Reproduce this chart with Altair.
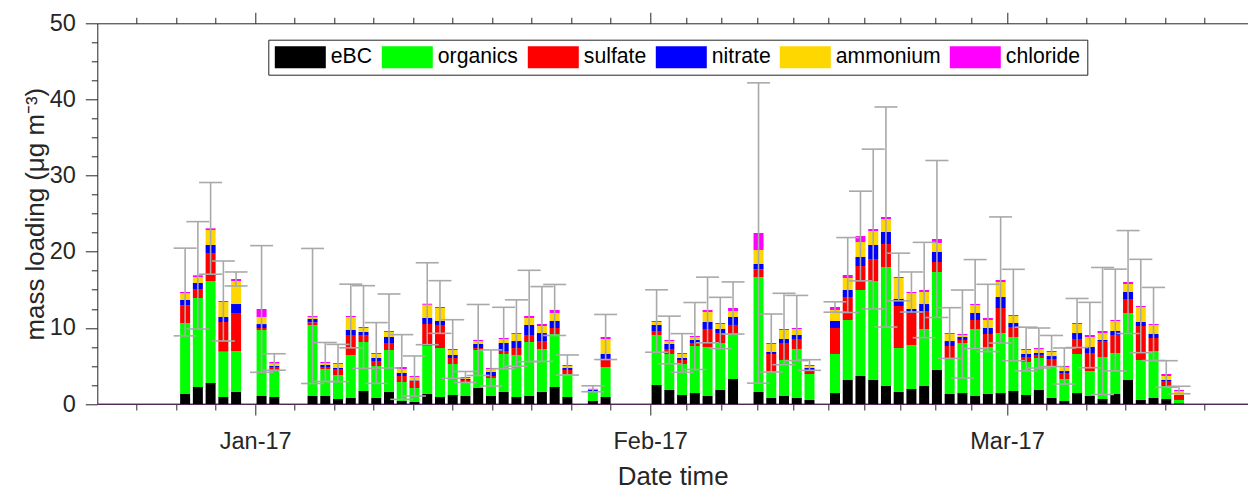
import altair as alt
import pandas as pd
from datetime import datetime, timezone

# ---------------- data ----------------
dates = [
    "2016-12-26", "2016-12-27", "2016-12-28", "2016-12-29", "2016-12-30",
    "2017-01-01", "2017-01-02", "2017-01-05", "2017-01-06", "2017-01-07",
    "2017-01-08", "2017-01-09", "2017-01-10", "2017-01-11", "2017-01-12",
    "2017-01-13", "2017-01-14", "2017-01-15", "2017-01-16", "2017-01-17",
    "2017-01-18", "2017-01-19", "2017-01-20", "2017-01-21", "2017-01-22",
    "2017-01-23", "2017-01-24", "2017-01-25", "2017-01-27", "2017-01-28",
    "2017-02-01", "2017-02-02", "2017-02-03", "2017-02-04", "2017-02-05",
    "2017-02-06", "2017-02-07", "2017-02-09", "2017-02-10", "2017-02-11",
    "2017-02-12", "2017-02-13", "2017-02-15", "2017-02-16", "2017-02-17",
    "2017-02-18", "2017-02-19", "2017-02-20", "2017-02-21", "2017-02-22",
    "2017-02-23", "2017-02-24", "2017-02-25", "2017-02-26", "2017-02-27",
    "2017-02-28", "2017-03-01", "2017-03-02", "2017-03-03", "2017-03-04",
    "2017-03-05", "2017-03-06", "2017-03-07", "2017-03-08", "2017-03-09",
    "2017-03-10", "2017-03-11", "2017-03-12", "2017-03-13", "2017-03-14",
]

ebc = [1.31, 2.23, 2.76, 0.92, 1.58, 1.05, 0.92, 1.05, 1.05, 0.66,
       0.79, 1.71, 0.79, 1.58, 0.39, 0.26, 1.31, 0.92, 1.18, 1.05,
       2.10, 1.05, 1.58, 0.92, 1.05, 1.58, 2.23, 0.92, 0.39, 0.92,
       2.50, 1.84, 1.18, 1.44, 1.05, 1.84, 3.28, 1.58, 0.79, 1.05,
       0.79, 0.53, 1.44, 3.15, 3.68, 3.15, 2.36, 1.58, 1.97, 2.36,
       4.47, 1.31, 1.44, 1.05, 1.31, 1.44, 1.71, 1.18, 1.84, 0.79,
       0.39, 1.44, 1.05, 0.66, 1.31, 3.15, 0.53, 0.79, 0.66, 0.10]

organics = [9.33, 11.69, 13.39, 5.95, 5.38, 8.67, 3.50, 9.33, 3.55, 3.15,
            5.65, 6.43, 4.20, 5.51, 2.50, 1.84, 6.31, 6.43, 4.07, 1.84,
            4.99, 2.36, 4.99, 5.52, 7.09, 5.64, 6.96, 3.02, 1.19, 3.94,
            6.56, 4.73, 4.07, 6.18, 6.44, 6.17, 5.96, 15.10, 3.54, 4.73,
            6.43, 3.41, 5.13, 7.88, 11.29, 13.00, 15.63, 5.77, 5.78, 7.49,
            12.87, 4.73, 6.57, 8.80, 6.18, 7.88, 7.09, 4.34, 4.20, 4.20,
            2.89, 5.13, 3.28, 5.51, 5.39, 8.80, 5.25, 6.17, 1.70, 0.43]

sulfate = [2.28, 1.18, 3.59, 3.90, 4.90, 0.26, 0.44, 0.34, 0.26, 0.79,
           2.53, 0.83, 0.66, 0.92, 0.79, 0.92, 2.89, 3.03, 0.79, 0.26,
           0.26, 0.27, 0.39, 0.91, 0.92, 1.05, 0.79, 0.53, 0.13, 0.92,
           0.53, 0.65, 0.53, 0.39, 2.36, 1.31, 1.14, 1.01, 2.24, 2.23,
           1.32, 0.53, 3.41, 3.02, 3.15, 2.89, 3.02, 5.52, 4.20, 2.36,
           1.31, 1.58, 0.40, 1.18, 1.70, 3.29, 1.31, 0.65, 0.40, 0.92,
           0.79, 1.97, 2.37, 2.10, 2.36, 1.84, 4.46, 1.71, 0.66, 0.65]

nitrate = [0.74, 0.79, 1.14, 0.66, 1.27, 0.52, 0.17, 0.44, 0.26, 0.13,
           0.75, 0.49, 0.39, 0.79, 0.39, 0.08, 0.79, 0.52, 0.40, 0.13,
           0.53, 0.52, 1.05, 0.92, 1.32, 1.05, 0.92, 0.26, 0.13, 0.79,
           0.79, 0.66, 0.26, 0.40, 0.92, 0.53, 1.05, 0.70, 0.26, 0.53,
           0.52, 0.26, 0.92, 0.92, 1.19, 1.84, 1.58, 0.92, 0.53, 0.92,
           1.31, 0.65, 0.39, 0.92, 0.79, 1.44, 0.53, 0.40, 0.26, 0.39,
           0.26, 0.78, 0.79, 0.14, 0.53, 0.92, 0.53, 0.52, 0.13, 0.02]

ammonium = [0.88, 0.79, 1.97, 1.97, 3.02, 0.93, 0.31, 0.27, 0.26, 0.52,
            1.71, 0.52, 0.53, 0.66, 0.53, 0.45, 1.74, 1.71, 0.65, 0.13,
            0.39, 0.40, 0.53, 0.92, 0.92, 0.92, 1.05, 0.26, 0.06, 1.97,
            0.39, 0.39, 0.53, 0.39, 1.31, 0.66, 0.78, 1.84, 1.05, 1.18,
            0.79, 0.26, 1.45, 1.58, 1.97, 1.84, 1.71, 2.76, 2.10, 1.58,
            1.19, 0.92, 0.26, 1.05, 1.05, 1.97, 0.92, 0.52, 0.52, 0.53,
            0.53, 1.19, 1.31, 0.91, 1.31, 1.05, 1.97, 1.19, 0.53, 0.51]

chloride = [0.17, 0.22, 0.22, 0.13, 0.27, 1.05, 0.18, 0.13, 0.14, 0.13,
            0.13, 0.13, 0.13, 0.13, 0.26, 0.13, 0.13, 0.13, 0.13, 0.14,
            0.14, 0.13, 0.13, 0.13, 0.26, 0.27, 0.40, 0.13, 0.10, 0.26,
            0.13, 0.14, 0.13, 0.13, 0.27, 0.13, 0.40, 2.23, 0.13, 0.13,
            0.13, 0.13, 0.39, 0.39, 0.78, 0.26, 0.26, 0.13, 0.13, 0.26,
            0.52, 0.13, 0.13, 0.13, 0.27, 0.27, 0.13, 0.13, 0.13, 0.13,
            0.13, 0.13, 0.26, 0.27, 0.13, 0.26, 0.13, 0.13, 0.26, 0.13]

# standard deviation of total mass (error bars)
total_sd = [5.76, 7.05, 6.02, 5.25, 0.92, 8.32, 1.08, 8.87, 2.56, 2.45,
            4.18, 5.43, 3.99, 4.86, 4.25, 2.63, 5.38, 3.46, 3.85, 0.72,
            4.66, 2.37, 4.03, 4.36, 6.00, 4.91, 3.35, 1.32, 0.39, 2.96,
            4.10, 3.13, 2.54, 4.40, 4.31, 3.37, 3.42, 19.72, 3.81, 4.69,
            4.28, 0.70, 0.68, 4.92, 5.89, 10.49, 14.45, 3.13, 2.63, 6.26,
            10.31, 3.33, 5.78, 5.84, 4.42, 8.28, 6.00, 2.87, 2.63, 2.04,
            2.37, 3.22, 4.29, 8.34, 6.68, 6.76, 6.13, 4.80, 1.75, 0.49]

components = ["eBC", "organics", "sulfate", "nitrate", "ammonium", "chloride"]
comp_colors = ["#000000", "#00ff00", "#ff0000", "#0000ff", "#ffd700", "#ff00ff"]
series = [ebc, organics, sulfate, nitrate, ammonium, chloride]

# ---------------- tables ----------------
rows = []
for i, d in enumerate(dates):
    for j, name in enumerate(components):
        rows.append({"t": d + "T12:00:00Z", "component": name, "idx": j,
                     "value": series[j][i]})
bars_df = pd.DataFrame(rows)

tot = [sum(s[i] for s in series) for i in range(len(dates))]
err_df = pd.DataFrame({
    "t": [d + "T12:00:00Z" for d in dates],
    "lo": [tot[i] - total_sd[i] for i in range(len(dates))],
    "hi": [tot[i] + total_sd[i] for i in range(len(dates))],
})

# ---------------- layout / ticks ----------------
W, H = 1150.7, 380.7
FONT = "Liberation Sans"
AXC = "#262626"
ERRC = "#a9a9a9"


def ms(dt):
    return int(dt.replace(tzinfo=timezone.utc).timestamp() * 1000)


x_start, x_end = datetime(2016, 12, 20), datetime(2017, 3, 19, 12, 30)
major_dt = [datetime(2017, 1, 1), datetime(2017, 2, 1), datetime(2017, 3, 1)]
majors = [ms(d) for d in major_dt]
month_starts = [datetime(2016, 12, 1), datetime(2017, 1, 1), datetime(2017, 2, 1),
                datetime(2017, 3, 1), datetime(2017, 4, 1)]
minors = []
for a, b in zip(month_starts[:-1], month_starts[1:]):
    step = (b - a) / 10
    for k in range(1, 10):
        d = a + step * k
        if x_start <= d <= x_end:
            minors.append(ms(d))

y_major = [0, 10, 20, 30, 40, 50]
y_minor = [v / 2 for v in range(5, 100, 5) if (v / 2) % 10 != 0]

xscale = alt.Scale(type="utc", domain=[ms(x_start), ms(x_end)])
yscale = alt.Scale(domain=[0, 50], nice=False, zero=True)

common = dict(domainColor=AXC, tickColor=AXC, domainWidth=1, tickWidth=1,
              grid=False, labelFont=FONT, titleFont=FONT,
              labelColor=AXC, titleColor=AXC)

x_axis_main = alt.Axis(orient="bottom", values=majors,
                       labelExpr="utcFormat(datum.value, '%b-%y')",
                       tickSize=11, labelFontSize=23.5,
                       labelPadding=14, labelFlush=False, labelOverlap=False,
                       title="Date time", titleFontSize=25.9,
                       titleFontWeight="normal", titleBaseline="alphabetic",
                       titleY=80, **common)
x_axis_minor_b = alt.Axis(orient="bottom", values=minors, tickSize=6,
                          labels=False, domain=False, title=None, **common)
x_axis_major_t = alt.Axis(orient="top", values=majors, tickSize=11,
                          labels=False, domain=True, title=None, **common)
x_axis_minor_t = alt.Axis(orient="top", values=minors, tickSize=6,
                          labels=False, domain=False, title=None, **common)

y_axis_main = alt.Axis(orient="left", values=y_major, tickSize=12,
                       labelFontSize=23.5, labelPadding=10,
                       title="mass loading (μg m⁻³)", titleFontSize=25.9,
                       titleFontWeight="normal", titleAngle=270,
                       titleBaseline="alphabetic", titleAlign="center",
                       titleX=-54, titleY=H / 2, **common)
y_axis_minor_l = alt.Axis(orient="left", values=y_minor, tickSize=6,
                          labels=False, domain=False, title=None, **common)
y_axis_major_r = alt.Axis(orient="right", values=y_major, tickSize=12,
                          labels=False, domain=True, title=None, **common)
y_axis_minor_r = alt.Axis(orient="right", values=y_minor, tickSize=6,
                          labels=False, domain=False, title=None, **common)

# swatch: 51 x 22 px rectangle, left-aligned in the legend entry
legend = alt.Legend(orient="none", legendX=171.0, legendY=16.4,
                    direction="horizontal", title=None,
                    symbolType="M-1,-1H3.636V1H-1Z", symbolSize=484,
                    symbolStrokeWidth=0, symbolOpacity=1,
                    labelFont=FONT, labelFontSize=21.2, labelColor="#000000",
                    labelOffset=34, labelLimit=400, columnPadding=9.0,
                    padding=6.5, strokeColor=AXC, fillColor="#ffffff")

# ---------------- layers ----------------
zero_line = alt.Chart(pd.DataFrame({"v": [0]})).mark_rule(
    color="#7e2f8e", strokeWidth=1.2
).encode(
    y=alt.Y("v:Q", scale=yscale, axis=None),
    x=alt.value(0), x2=alt.value(W),
)

bars = alt.Chart(bars_df).mark_bar(size=10).encode(
    x=alt.X("t:T", scale=xscale, axis=x_axis_main),
    y=alt.Y("value:Q", stack="zero", scale=yscale, axis=y_axis_main),
    color=alt.Color("component:N",
                    scale=alt.Scale(domain=components, range=comp_colors),
                    legend=legend),
    order=alt.Order("idx:Q", sort="ascending"),
)

err_line = alt.Chart(err_df).mark_rule(color=ERRC, strokeWidth=1.6).encode(
    x=alt.X("t:T", scale=xscale, axis=x_axis_minor_b),
    y=alt.Y("lo:Q", scale=yscale, axis=y_axis_minor_l),
    y2="hi:Q",
)

cap_hi = alt.Chart(err_df).mark_rule(
    color=ERRC, strokeWidth=1.6, xOffset=-11.5, x2Offset=11.5
).encode(
    x=alt.X("t:T", scale=xscale, axis=x_axis_major_t),
    x2="t:T",
    y=alt.Y("hi:Q", scale=yscale, axis=y_axis_major_r),
)

cap_lo = alt.Chart(err_df).mark_rule(
    color=ERRC, strokeWidth=1.6, xOffset=-11.5, x2Offset=11.5
).encode(
    x=alt.X("t:T", scale=xscale, axis=x_axis_minor_t),
    x2="t:T",
    y=alt.Y("lo:Q", scale=yscale, axis=y_axis_minor_r),
)

chart = alt.layer(zero_line, bars, err_line, cap_hi, cap_lo).resolve_axis(
    x="independent", y="independent"
).properties(
    width=W, height=H,
    autosize=alt.AutoSizeParams(type="none"),
    padding={"left": 89.3, "top": 15.3, "right": 0, "bottom": 84},
).configure(font=FONT).configure_view(stroke="transparent")

chart.save("out.html", embed_options={"renderer": "svg", "actions": False})
